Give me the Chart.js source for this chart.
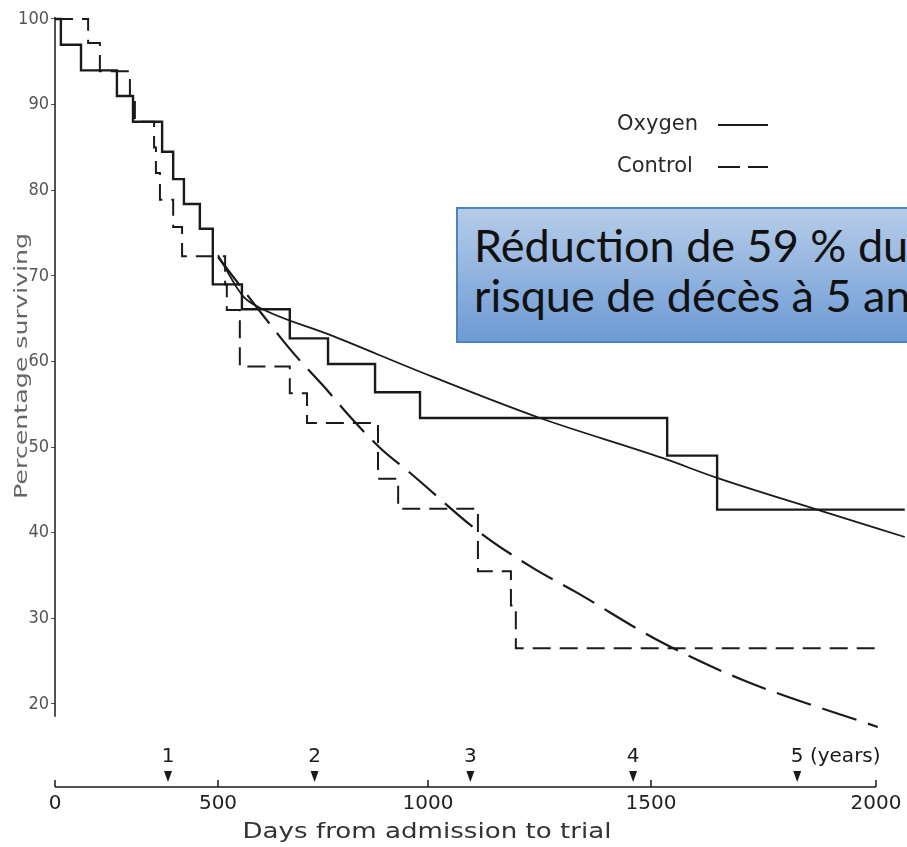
<!DOCTYPE html>
<html>
<head>
<meta charset="utf-8">
<script src="https://cdn.jsdelivr.net/npm/chart.js@4.4.1/dist/chart.umd.min.js"></script>
<style>
  html, body { margin: 0; padding: 0; background: #fff; }
  #wrap { position: relative; width: 907px; height: 847px; overflow: hidden; }
  #note {
    position: absolute; left: 456px; top: 207px; width: 500px; height: 136px;
    box-sizing: border-box; border: 2px solid #4a84c6;
    background: linear-gradient(#b6cce8, #6c9bd5);
    padding: 11px 0 0 16px; color: #111;
    font: 45px Lato, "Open Sans", sans-serif; line-height: 50px; white-space: nowrap;
  }
</style>
</head>
<body>
<div id="wrap">
  <canvas id="c" width="907" height="847"></canvas>
  <div id="note">Réduction de 59 % du<br>risque de décès à 5 ans</div>
</div>
<script>
// Données (jours depuis l'admission, % de survivants)
const oxygenDays  = [0, 19, 84, 200, 252, 346, 379, 408, 451, 486, 557, 671, 762, 874, 981, 1536, 1647, 2064];
const oxygenSurv  = [100, 97, 94, 91, 88, 84.5, 81.3, 78.4, 75.5, 69, 66.1, 62.7, 59.7, 56.4, 53.4, 49, 42.7, 42.7];
const controlDays = [0, 107, 145, 242, 258, 320, 326, 339, 379, 403, 517, 521, 552, 671, 712, 881, 929, 1112, 1186, 1197, 2004];
const controlSurv = [100, 97.2, 93.9, 91, 88, 85, 82, 78.9, 75.7, 72.3, 69, 66, 59.4, 56.3, 52.8, 46.3, 42.8, 35.5, 31.5, 26.5, 26.5];
const oxygenFitDays  = [500, 560, 595, 767, 1011, 1251, 1527, 1647, 1869, 2064];
const oxygenFitSurv  = [72.4, 67.6, 66.4, 63.1, 58.2, 53.4, 48.7, 46.4, 42.7, 39.5];
const controlFitDays = [500, 607, 679, 748, 821, 886, 957, 1117, 1235, 1334, 1513, 1704, 2004];
const controlFitSurv = [72.2, 65.4, 61, 57.3, 53.2, 49.9, 47, 40, 35.9, 33.0, 27.5, 22.8, 17.3];

const xTicks = [0, 500, 1000, 1500, 2000];
const yTicks = [20, 30, 40, 50, 60, 70, 80, 90, 100];
const yearDays = [365, 730, 1095, 1460, 1825];
const yearLabels = ['1', '2', '3', '4', '5'];

const ink = '#1a1a1a';

// l'axe des jours du document scanné n'est pas tout à fait linéaire
const dayKnots = [0, 365, 500, 1000, 1500, 2000];
const axisKnots = [0, 113, 163, 373, 596, 821];
function interp(v, from, to) {
  let i = 1;
  while (i < from.length - 1 && v > from[i]) i++;
  return to[i-1] + (v - from[i-1]) * (to[i] - to[i-1]) / (from[i] - from[i-1]);
}
class WarpScale extends Chart.LinearScale {
  getPixelForValue(v) {
    if (v === null || v === undefined) return NaN;
    const a = interp(this.min, dayKnots, axisKnots), b = interp(this.max, dayKnots, axisKnots);
    return this.getPixelForDecimal((interp(v, dayKnots, axisKnots) - a) / (b - a));
  }
  getValueForPixel(p) {
    const a = interp(this.min, dayKnots, axisKnots), b = interp(this.max, dayKnots, axisKnots);
    return interp(a + this.getDecimalForPixel(p) * (b - a), axisKnots, dayKnots);
  }
}
WarpScale.id = 'warp';
WarpScale.defaults = Chart.LinearScale.defaults;
Chart.register(WarpScale);

const pts = (xs, ys) => xs.map((d, i) => ({ x: d, y: ys[i] }));

// texte étiré à une largeur donnée
function fitText(ctx, txt, cx, cy, w, font, rot) {
  ctx.save();
  ctx.font = font;
  ctx.textAlign = 'center'; ctx.textBaseline = 'middle';
  ctx.translate(cx, cy);
  if (rot) ctx.rotate(rot);
  ctx.scale(w / ctx.measureText(txt).width, 1);
  ctx.fillText(txt, 0, 0);
  ctx.restore();
}

const decor = {
  id: 'decor',
  afterDraw(chart) {
    const { ctx, scales: { x, y } } = chart;
    const x0 = x.getPixelForValue(0), ax = y.bottom;
    ctx.save();
    ctx.strokeStyle = ink; ctx.fillStyle = ink; ctx.lineWidth = 1.5;
    // axe vertical
    ctx.beginPath();
    ctx.moveTo(x0, y.getPixelForValue(100) - 2);
    ctx.lineTo(x0, y.getPixelForValue(18.5));
    ctx.stroke();
    // axe horizontal + graduations
    ctx.beginPath();
    ctx.moveTo(x0, ax); ctx.lineTo(x.getPixelForValue(2000), ax);
    xTicks.forEach(v => { const p = x.getPixelForValue(v); ctx.moveTo(p, ax); ctx.lineTo(p, ax - 7); });
    ctx.stroke();
    // repères des années
    ctx.font = '20px "DejaVu Sans", sans-serif';
    ctx.textBaseline = 'middle';
    yearDays.forEach((d, i) => {
      const p = x.getPixelForValue(d);
      ctx.beginPath();
      ctx.moveTo(p - 4, ax - 16); ctx.lineTo(p + 4, ax - 16); ctx.lineTo(p, ax - 5);
      ctx.closePath(); ctx.fill();
      ctx.textAlign = 'center';
      ctx.fillText(yearLabels[i], p, ax - 30);
      if (i === yearLabels.length - 1) {
        ctx.textAlign = 'left';
        ctx.fillText(' (years)', p + ctx.measureText(yearLabels[i]).width / 2, ax - 30);
      }
    });
    // titres des axes
    ctx.fillStyle = '#333';
    fitText(ctx, 'Days from admission to trial', 427, 832, 369, '22px "DejaVu Sans", sans-serif');
    ctx.fillStyle = '#666';
    fitText(ctx, 'Percentage surviving', 22, 366, 266, '18px "DejaVu Sans", sans-serif', -Math.PI / 2);
    // légende
    ctx.fillStyle = '#2a2a2a';
    ctx.font = '21px "DejaVu Sans", sans-serif';
    ctx.textAlign = 'left';
    const legend = [['Oxygen', 125, []], ['Control', 167, [22, 8]]];
    legend.forEach(([name, ly, dash]) => {
      ctx.fillText(name, 617, ly);
      ctx.beginPath(); ctx.setLineDash(dash); ctx.lineWidth = 2;
      ctx.moveTo(718, ly); ctx.lineTo(768, ly); ctx.stroke();
    });
    ctx.restore();
  }
};

new Chart(document.getElementById('c'), {
  type: 'line',
  data: {
    datasets: [
      { label: 'Oxygen', data: pts(oxygenDays, oxygenSurv), stepped: true, borderWidth: 2.4 },
      { label: 'Control', data: pts(controlDays, controlSurv), stepped: true, borderWidth: 2, borderDash: [18, 9] },
      { label: 'Oxygen (courbe)', data: pts(oxygenFitDays, oxygenFitSurv), cubicInterpolationMode: 'monotone', borderWidth: 1.8 },
      { label: 'Control (courbe)', data: pts(controlFitDays, controlFitSurv), cubicInterpolationMode: 'monotone', borderWidth: 2.2, borderDash: [36, 12] }
    ]
  },
  options: {
    responsive: false,
    animation: false,
    layout: { padding: { top: 10, left: 0, right: 0, bottom: 0 } },
    elements: {
      point: { radius: 0 },
      line: { fill: false, borderColor: ink, borderCapStyle: 'butt' }
    },
    plugins: { legend: { display: false }, tooltip: { enabled: false } },
    scales: {
      x: {
        type: 'warp', min: 0, max: 2069,
        afterBuildTicks: s => { s.ticks = xTicks.map(v => ({ value: v })); },
        afterFit: s => { s.height = 60; s.paddingLeft = 0; s.paddingRight = 0; },
        border: { display: false },
        grid: { display: false },
        ticks: { padding: -3, color: '#222', autoSkip: false, maxRotation: 0,
                 callback: v => String(v),
                 font: { family: 'DejaVu Sans', size: 20 } }
      },
      y: {
        min: 10.3, max: 101.05,
        afterBuildTicks: s => { s.ticks = yTicks.map(v => ({ value: v })); },
        afterFit: s => { s.width = 55; s.paddingTop = 0; s.paddingBottom = 0; },
        border: { display: false },
        grid: { drawOnChartArea: false, tickLength: 4, color: '#555' },
        ticks: { padding: 2, color: '#555',
                 font: { family: '"Liberation Sans Narrow", "DejaVu Sans Condensed", "DejaVu Sans"', size: 18 } }
      }
    }
  },
  plugins: [decor]
});
</script>
</body>
</html>
